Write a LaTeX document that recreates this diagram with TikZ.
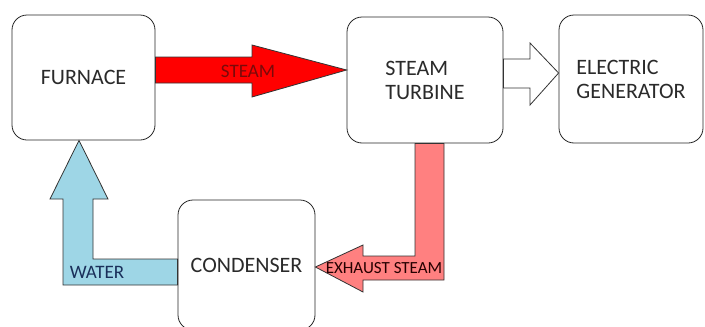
\documentclass[tikz,border=0pt]{standalone}
\usepackage{fontspec}
\setmainfont{Carlito}
\definecolor{steamred}{HTML}{FF0000}
\definecolor{exhaustpink}{HTML}{FF8080}
\definecolor{waterblue}{HTML}{9ED6E6}
\definecolor{boxtext}{HTML}{2A2A2A}
\definecolor{steamtext}{HTML}{7A0A0A}
\definecolor{watertext}{HTML}{1A2F5A}
\begin{document}
\begin{tikzpicture}[x=1pt,y=-1pt,
  blockbox/.style={draw=black!85,line width=0.8pt,rounded corners=15pt,fill=white,
    inner sep=0pt,text=boxtext,font=\fontsize{22}{24}\selectfont},
  blockarrow/.style={draw=black!80,line width=0.8pt,line join=miter},
  flowlabel/.style={inner sep=0pt,font=\fontsize{19}{21}\selectfont}]
\useasboundingbox (0,0) rectangle (705,327);
% boxes
\node[blockbox,minimum width=143pt,minimum height=125pt] (furnace) at (83.5,77.5) {FURNACE};
\node[blockbox,minimum width=156pt,minimum height=126pt,align=left] (turbine) at (425,80) {STEAM\\TURBINE};
\node[blockbox,minimum width=144pt,minimum height=128pt,align=left] (generator) at (631,79) {ELECTRIC\\GENERATOR};
\node[blockbox,minimum width=137pt,minimum height=130pt] (condenser) at (246.5,265) {CONDENSER};
% steam arrow
\filldraw[blockarrow,fill=steamred] (furnace.east|-0,57) -- (252,57) -- (252,45) -- (turbine.west|-0,70)
  -- (252,97) -- (252,83) -- (furnace.east|-0,83) -- cycle;
% generator arrow
\filldraw[blockarrow,fill=white] (turbine.east|-0,59) -- (530,59) -- (530,43) -- (generator.west|-0,73)
  -- (530,105) -- (530,88) -- (turbine.east|-0,88) -- cycle;
% exhaust arrow
\filldraw[blockarrow,fill=exhaustpink] (415,0|-turbine.south) -- (444,0|-turbine.south) -- (444,280) -- (363,280)
  -- (363,292) -- (condenser.east|-0,267) -- (363,245) -- (363,256) -- (415,256) -- cycle;
% water arrow
\filldraw[blockarrow,fill=waterblue] (condenser.west|-0,259) -- (93,259) -- (93,199) -- (108,199)
  -- (79,0|-furnace.south) -- (50,199) -- (63,199) -- (63,285) -- (condenser.west|-0,285) -- cycle;
% labels
\node[flowlabel,text=steamtext] (steamlbl) at (248,71) {STEAM};
\node[flowlabel,text=watertext] (waterlbl) at (97,272) {WATER};
\node[flowlabel,text=black!85!red,font=\fontsize{17}{19}\selectfont] (exhaustlbl) at (384,268) {EXHAUST STEAM};
\end{tikzpicture}
\end{document}
